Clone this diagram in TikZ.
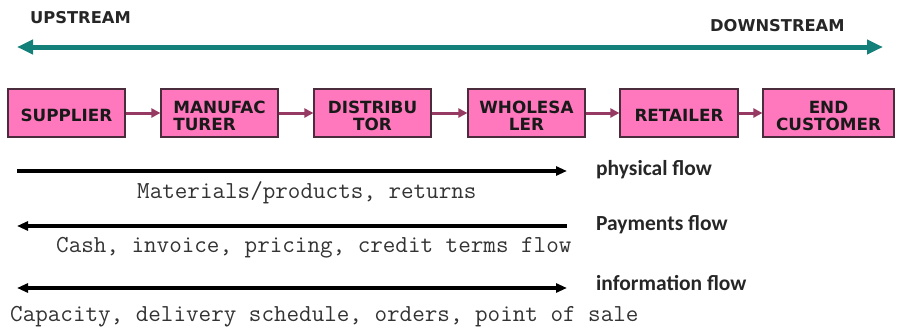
\documentclass[tikz,border=0pt]{standalone}
\usepackage{fontspec}
\setmainfont{DejaVu Sans}
\newfontfamily\boxfont{DejaVu Sans}
\newfontfamily\lblfont{Carlito}
\newfontfamily\monofont{Latin Modern Mono}
\usetikzlibrary{arrows.meta}
\definecolor{boxpink}{HTML}{FF78BE}
\definecolor{boxedge}{HTML}{4A2C3C}
\definecolor{linkred}{HTML}{963A64}
\definecolor{tealc}{HTML}{14807A}
\tikzset{
  stage/.style={draw=boxedge, line width=1.2pt, fill=boxpink, minimum height=48pt, inner sep=0pt},
  stagetxt/.style={inner sep=0pt, font=\boxfont\bfseries\fontsize{16.8}{17}\selectfont, text=black!90, align=center},
  link/.style={draw=linkred, line width=3pt, -{Triangle[length=9pt,width=9pt]}},
  flowline/.style={line width=3.5pt, black},
  mono/.style={font=\monofont\fontsize{24.4}{25}\selectfont, text=black!80, anchor=west, inner sep=0pt},
  flowlbl/.style={font=\lblfont\bfseries\fontsize{21.5}{22}\selectfont, text=black!85, anchor=west, inner sep=0pt},
  streamlbl/.style={font=\boxfont\bfseries\fontsize{16.3}{17}\selectfont, text=black!85, anchor=west, inner sep=0pt}
}
\begin{document}
\begin{tikzpicture}[x=1pt,y=-1pt]
\useasboundingbox (0,0) rectangle (898,327);
% stream arrow
\node[streamlbl] (up) at (30,18) {UPSTREAM};
\node[streamlbl] (down) at (710,26) {DOWNSTREAM};
\coordinate (sl) at (17,47);
\coordinate (sr) at (883,47);
\draw[tealc, line width=5pt, {Triangle[length=16pt,width=14pt]}-{Triangle[length=16pt,width=14pt]}] (sl) -- (sr);
% stages
\node[stage, minimum width=117pt] (sup) at (66.5,113) {};
\node[stage, minimum width=117pt] (man) at (219.5,113) {};
\node[stage, minimum width=117pt] (dis) at (372.5,113) {};
\node[stage, minimum width=117pt] (who) at (526.5,113) {};
\node[stage, minimum width=118pt] (ret) at (679,113) {};
\node[stage, minimum width=131pt] (end) at (828.5,113) {};
\node[stagetxt] (supt) at ([yshift=-2.5pt]sup.center) {SUPPLIER};
\node[stagetxt, align=left] (mant) at ([yshift=-3pt]man.center) {MANUFAC\\TURER};
\node[stagetxt] (dist) at ([yshift=-3pt]dis.center) {DISTRIBU\\TOR};
\node[stagetxt] (whot) at ([yshift=-3pt]who.center) {WHOLESA\\LER};
\node[stagetxt] (rett) at ([yshift=-2.5pt]ret.center) {RETAILER};
\node[stagetxt] (endt) at ([yshift=-3pt]end.center) {END\\CUSTOMER};
\draw[link] (sup) -- (man);
\draw[link] (man) -- (dis);
\draw[link] (dis) -- (who);
\draw[link] (who) -- (ret);
\draw[link] (ret) -- (end);
% flows
\coordinate (p1) at (17,171);
\coordinate (p2) at (567,171);
\draw[flowline, -{Triangle[length=11pt,width=9pt]}] (p1) -- (p2);
\node[flowlbl] (pl) at (596,170) {physical flow};
\node[mono] (pt) at (137,193) {Materials/products, returns};
\coordinate (m1) at (17,226);
\coordinate (m2) at (567,226);
\draw[flowline, {Triangle[length=11pt,width=9pt]}-] (m1) -- (m2);
\node[flowlbl] (ml) at (596,225) {Payments flow};
\node[mono] (mt) at (56,248) {Cash, invoice, pricing, credit terms flow};
\coordinate (i1) at (17,288);
\coordinate (i2) at (567,288);
\draw[flowline, {Triangle[length=11pt,width=9pt]}-{Triangle[length=11pt,width=9pt]}] (i1) -- (i2);
\node[flowlbl] (il) at (596,283) {information flow};
\node[mono] (it) at (10,317) {Capacity, delivery schedule, orders, point of sale};
\end{tikzpicture}
\end{document}
